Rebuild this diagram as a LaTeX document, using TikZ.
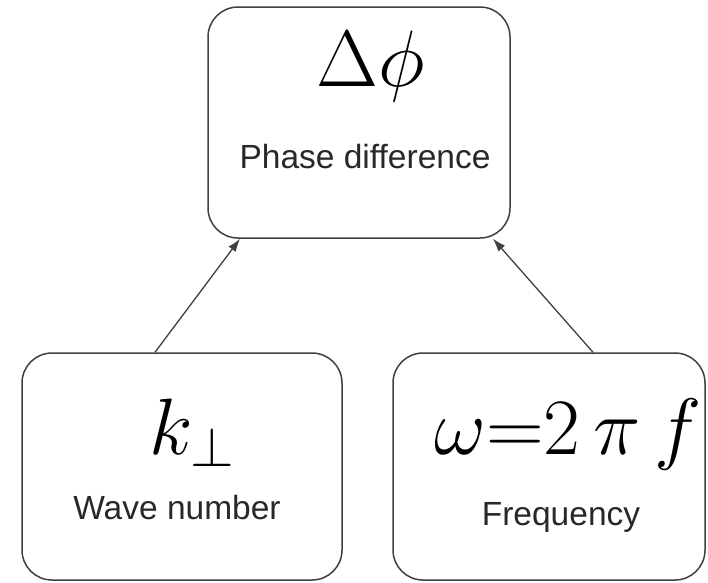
\RequirePackage{fix-cm}
\documentclass[tikz,border=0pt]{standalone}
\usepackage{fontspec}
\setmainfont{Liberation Sans}
\usepackage{amsmath}
\usetikzlibrary{arrows.meta, positioning, calc}
\definecolor{boxgray}{RGB}{64,64,64}
\definecolor{labelgray}{RGB}{40,40,40}
\tikzset{
  qbox/.style={draw=boxgray, line width=1.5pt, rounded corners=30pt, inner sep=0pt},
  symb/.style={inner sep=0pt, font=\fontsize{80}{82}\selectfont},
  caption/.style={inner sep=0pt, font=\fontsize{33.5}{36}\selectfont, text=labelgray},
  link/.style={-{Latex[length=13pt,width=9pt]}, line width=1.3pt, draw=boxgray},
}
\begin{document}
\begin{tikzpicture}[x=1pt, y=1pt]
\useasboundingbox (0,0) rectangle (708,-582);
% boxes
\node[qbox, minimum width=302pt, minimum height=231pt] (phase) at (359,-122.5) {};
\node[qbox, minimum width=320pt, minimum height=227pt] (wave) at (182,-466.5) {};
\node[qbox, minimum width=312pt, minimum height=227pt] (freq) at (549,-466.5) {};
% contents
\node[symb] (dphi) at (371,-66) {$\Delta\phi$};
\node[caption] (phaselbl) at (365,-157) {Phase difference};
\node[symb] (kperp) at (192,-433) {$k_{\perp}$};
\node[caption] (wavelbl) at (177,-508) {Wave number};
\node[symb] (omega) at (568,-434) {$\omega{=}2\,\pi\, f$};
\node[caption] (freqlbl) at (561,-517) {Frequency};
% arrows
\draw[link] ($(wave.north)+(-27,0)$) -- ($(phase.south)+(-119,0)$);
\draw[link] ($(freq.north)+(44,0)$) -- ($(phase.south)+(134,0)$);
\end{tikzpicture}
\end{document}
